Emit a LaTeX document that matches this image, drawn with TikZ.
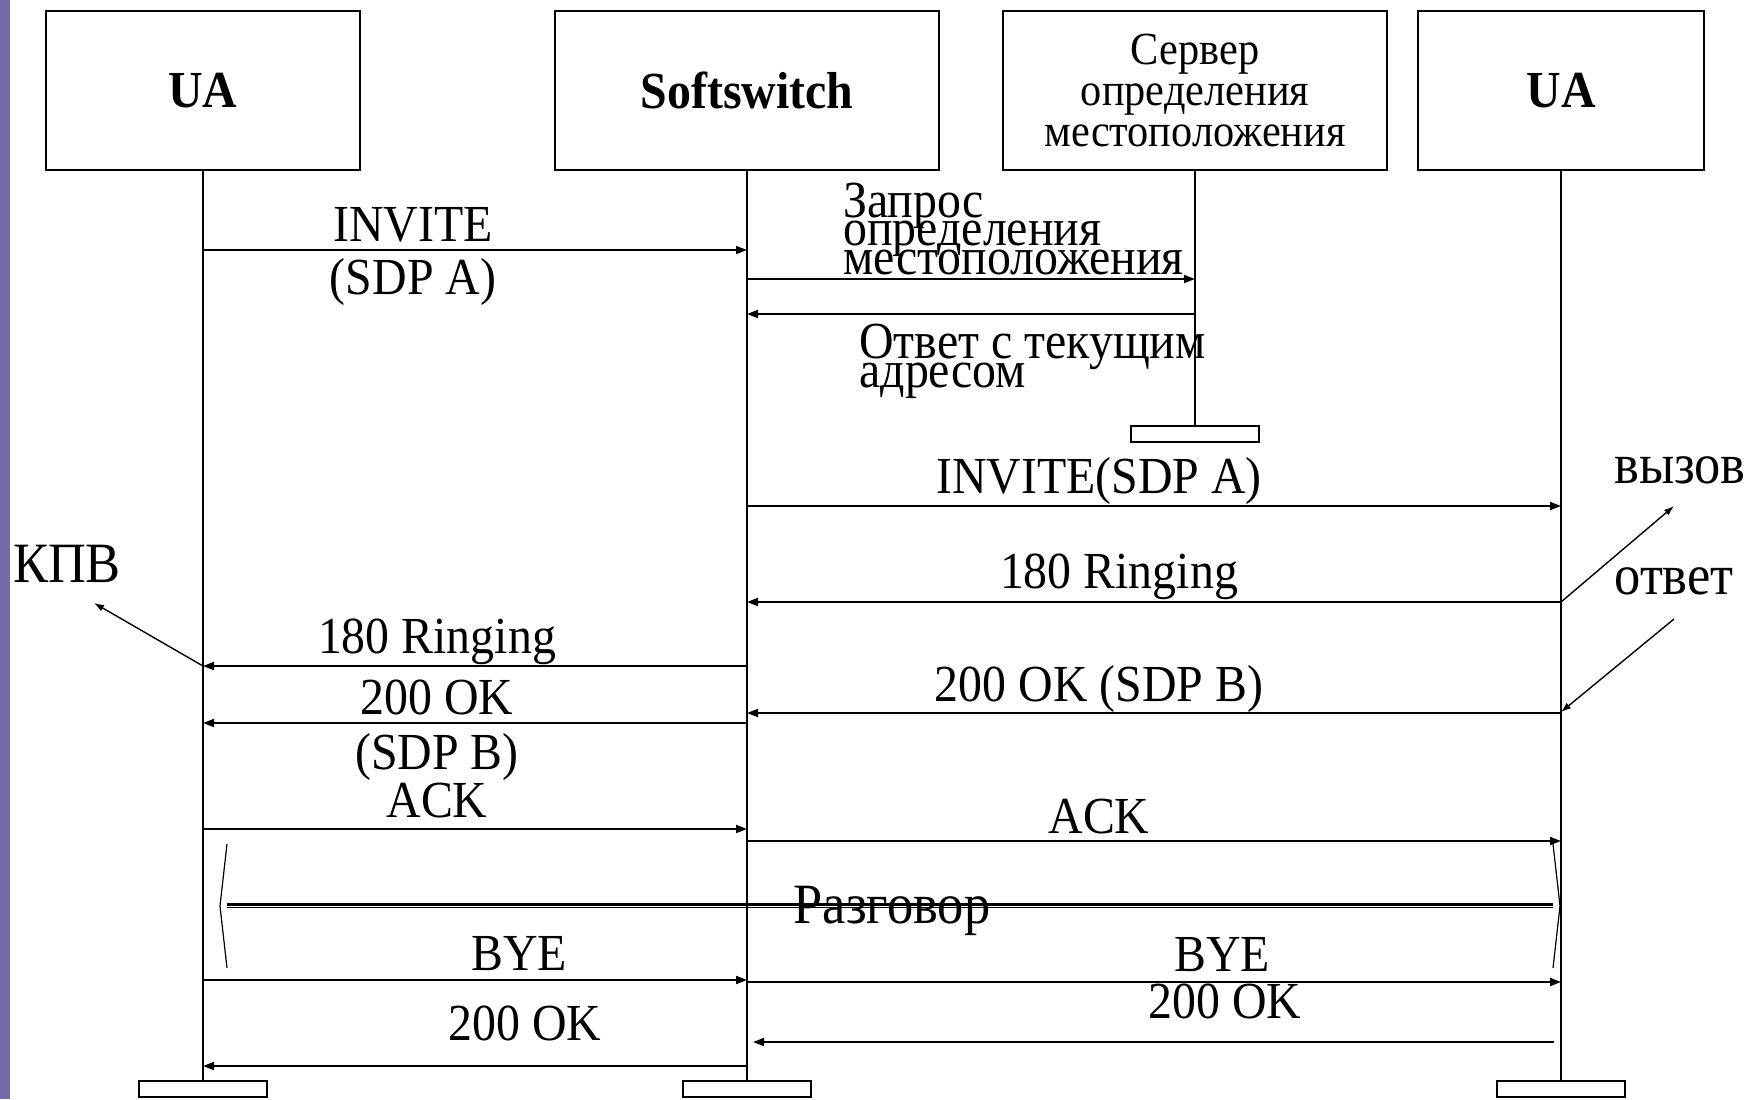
\documentclass[tikz,border=0pt]{standalone}
\usepackage{fontspec}
\setmainfont{Liberation Serif}
\newfontfamily\narrow{Liberation Serif}[FakeStretch=0.92]
\newcommand\tightlines{\lineskiplimit -30pt\lineskip 0pt\relax}
\usetikzlibrary{arrows.meta, positioning}
\definecolor{sidebar}{RGB}{115,106,170}

\begin{document}
\begin{tikzpicture}[x=0.5pt, y=-0.5pt, box/.style={draw, line width=0.8pt, outer sep=0pt, minimum width=192pt, minimum height=79.5pt, inner sep=0pt, align=center, font=\narrow\fontsize{26}{28}\selectfont\bfseries}, foot/.style={draw, line width=0.8pt, minimum width=64pt, minimum height=8pt, inner sep=0pt, anchor=north}, life/.style={line width=0.6pt}, msg/.style={-{Triangle[length=5.5pt, width=4pt]}, line width=0.9pt}, note/.style={-{Latex[length=5pt, width=3.5pt]}, line width=0.7pt}, lbl/.style={inner sep=0pt, font=\narrow\fontsize{26}{28}\selectfont}, big/.style={lbl, font=\narrow\fontsize{28.5}{30}\selectfont}, tight/.style={lbl, anchor=west, align=left, font={\narrow\fontsize{26}{14.3}\selectfont\tightlines}}]

\useasboundingbox (0,0) rectangle (1750,1099);
\fill[sidebar] (0,0) rectangle (10,1099);

% participants
\node[box, minimum width=157pt] (ua) at (203,90.5) {UA};
\node[box, right=97.5pt of ua] (sw) {Softswitch};
\node[box, right=32pt of sw, font=\narrow\fontsize{23}{20.5}\selectfont] (srv) {Сервер\\определения\\местоположения};
\node[box, right=15.5pt of srv, minimum width=143pt] (ub) {UA};

% lifelines
\draw[life] (ua) -- (ua |- 0,1080) node[foot] (uafoot) {};
\draw[life] (sw) -- (sw |- 0,1080) node[foot] (swfoot) {};
\draw[life] (srv) -- (srv |- 0,425) node[foot] (srvfoot) {};
\draw[life] (ub) -- (ub |- 0,1080) node[foot] (ubfoot) {};

% messages
\draw[msg] (ua |- 0,250) -- (sw |- 0,250);
\node[lbl] (inv1) at (413,225) {INVITE};
\node[lbl] (inv1b) at (413,282) {(SDP A)};
\draw[msg] (sw |- 0,279) -- (srv |- 0,279);
\node[tight] (req) at (843,229) {Запрос\\определения\\местоположения};
\draw[msg] (srv |- 0,314) -- (sw |- 0,314);
\node[tight, font={\narrow\fontsize{26}{14.5}\selectfont\tightlines}] (resp) at (859,361) {Ответ с текущим\\адресом};
\draw[msg] (sw |- 0,506) -- (ub |- 0,506);
\node[lbl] (inv2) at (1099,481) {INVITE(SDP A)};
\draw[msg] (ub |- 0,602) -- (sw |- 0,602);
\node[lbl] (ring2) at (1119,577) {180 Ringing};
\draw[msg] (sw |- 0,666) -- (ua |- 0,666);
\node[lbl] (ring1) at (437,642) {180 Ringing};
\draw[msg] (ub |- 0,713) -- (sw |- 0,713);
\node[lbl] (ok2) at (1099,689) {200 OK (SDP B)};
\draw[msg] (sw |- 0,723) -- (ua |- 0,723);
\node[lbl] (ok1) at (437,697) {200 OK};
\node[lbl] (ok1b) at (437,757) {(SDP B)};
\node[lbl] (ack1) at (437,801) {ACK};
\draw[msg] (ua |- 0,829) -- (sw |- 0,829);
\draw[msg] (sw |- 0,841) -- (ub |- 0,841);
\node[lbl] (ack2) at (1099,817) {ACK};

% conversation
\coordinate (talkL) at (220,906);
\coordinate (talkR) at (1560,906);
\draw[line width=1.3pt] ([shift={(3.5pt,0.9pt)}]talkL) -- ([shift={(-3.5pt,0.9pt)}]talkR);
\draw[line width=0.65pt] ([shift={(3.5pt,-0.7pt)}]talkL) -- ([shift={(-3.5pt,-0.7pt)}]talkR);
\draw[line width=0.6pt] ([shift={(3.5pt,31pt)}]talkL) -- (talkL) -- ([shift={(3.5pt,-31pt)}]talkL);
\draw[line width=0.6pt] ([shift={(-3.5pt,31pt)}]talkR) -- (talkR) -- ([shift={(-3.5pt,-31pt)}]talkR);
\node[big] (talk) at (892,911) {Разговор};

% release
\draw[msg] (ua |- 0,980) -- (sw |- 0,980);
\node[lbl] (bye1) at (519,954) {BYE};
\draw[msg] (sw |- 0,982) -- (ub |- 0,982);
\node[lbl] (bye2) at (1222,955) {BYE};
\node[lbl] (ok4) at (1225,1001) {200 OK};
\draw[msg] ([xshift=-3.5pt]ub |- 0,1042) -- ([xshift=3pt]sw |- 0,1042);
\draw[msg] (sw |- 0,1066) -- (ua |- 0,1066);
\node[lbl] (ok3) at (525,1023) {200 OK};

% notes
\node[big] (kpv) at (67,564) {КПВ};
\coordinate (kpvtip) at (94,603);
\draw[note] (ua |- 0,666) -- (kpvtip);
\node[big] (call) at (1680,470) {вызов};
\coordinate (calltip) at (1674,506);
\draw[note] (ub |- 0,602) -- (calltip);
\node[big] (answ) at (1674,581) {ответ};
\coordinate (answtail) at (1674,619);
\draw[note] (answtail) -- (ub |- 0,712);

\end{tikzpicture}
\end{document}
